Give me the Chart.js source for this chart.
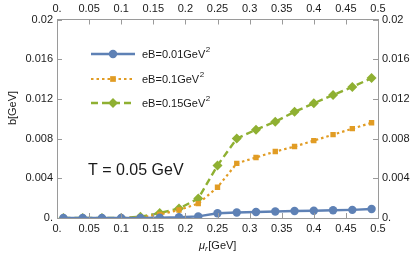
<!DOCTYPE html>
<html>
<head>
<meta charset="utf-8">
<script src="https://cdn.jsdelivr.net/npm/chart.js"></script>
<style>
html,body{margin:0;padding:0;background:#fff;}
#c{display:block;}
</style>
</head>
<body>
<canvas id="c" width="415" height="260"></canvas>
<script>
/* ── data ── */
const mu=[0.01,0.04,0.07,0.10,0.13,0.16,0.19,0.22,0.25,0.28,0.31,0.34,0.37,0.40,0.43,0.46,0.49];
const b001=[0,0,0,0,0,0.00004,0.00007,0.00016,0.00048,0.00055,0.0006,0.00066,0.0007,0.00073,0.00078,0.00082,0.0009];
const b01=[0,0,0,0,0.00005,0.00035,0.0008,0.00145,0.0031,0.0055,0.0061,0.0067,0.0072,0.0078,0.0084,0.0090,0.0096];
const b015=[0,0,0,0,0.00012,0.0005,0.00095,0.00196,0.0053,0.0080,0.0089,0.0097,0.0107,0.01155,0.0124,0.0132,0.0141];
const seriesNames=['eB=0.01GeV','eB=0.1GeV','eB=0.15GeV'];
const xTicks=[0,0.05,0.1,0.15,0.2,0.25,0.3,0.35,0.4,0.45,0.5];
const xTickLabels=['0.','0.05','0.1','0.15','0.2','0.25','0.3','0.35','0.4','0.45','0.5'];
const yTicks=[0,0.004,0.008,0.012,0.016,0.02];
const yTickLabels=['0.','0.004','0.008','0.012','0.016','0.02'];
const tempLabel='T = 0.05 GeV';

const FONT="'Liberation Sans',Arial,sans-serif";
const frameC='#9a9a9a', ink='#1a1a1a';
const cols=['#5E81B5','#E19C24','#8FB032'];
const styles=[
  {dash:[],w:2.4,ps:'circle',r:4.2},
  {dash:[2.5,3],w:2.2,ps:'rect',r:3.8},
  {dash:[7,4],w:2.4,ps:'rectRot',r:5}
];
const pts=ys=>mu.map((x,i)=>({x,y:ys[i]}));

function tickAxis(pos,ticks,labels,h,w){
  const isX=pos==='top'||pos==='bottom';
  const vals=isX?xTicks:yTicks;
  return {type:'linear',position:pos,min:0,max:isX?0.5:0.02,
    afterBuildTicks:s=>{s.ticks=vals.map(v=>({value:v}));},
    afterFit:s=>{if(isX)s.height=h;else s.width=w;},
    grid:{display:false,drawTicks:false},
    border:{display:true,color:frameC,width:1},
    ticks:{display:labels,padding:4,color:ink,font:{family:FONT,size:11},maxRotation:0,autoSkip:false,
      callback:(v,i)=>(isX?xTickLabels:yTickLabels)[i]}};
}

function marker(ctx,ps,r,x,y,c){
  ctx.save();ctx.fillStyle=c;ctx.beginPath();
  if(ps==='circle')ctx.arc(x,y,r,0,Math.PI*2);
  else if(ps==='rect')ctx.rect(x-r*0.75,y-r*0.75,r*1.5,r*1.5);
  else{ctx.moveTo(x,y-r);ctx.lineTo(x+r,y);ctx.lineTo(x,y+r);ctx.lineTo(x-r,y);ctx.closePath();}
  ctx.fill();ctx.restore();
}

const deco={id:'deco',
  afterDraw(ch){
    const ctx=ch.ctx,a=ch.chartArea,sx=ch.scales.x,sy=ch.scales.y;
    ctx.save();
    // inward ticks
    ctx.strokeStyle=frameC;ctx.lineWidth=1;ctx.setLineDash([]);
    xTicks.forEach(v=>{const p=Math.round(sx.getPixelForValue(v))+0.5;
      ctx.beginPath();ctx.moveTo(p,a.bottom);ctx.lineTo(p,a.bottom-5);ctx.moveTo(p,a.top);ctx.lineTo(p,a.top+5);ctx.stroke();});
    yTicks.forEach(v=>{const p=Math.round(sy.getPixelForValue(v))+0.5;
      ctx.beginPath();ctx.moveTo(a.left,p);ctx.lineTo(a.left+5,p);ctx.moveTo(a.right,p);ctx.lineTo(a.right-5,p);ctx.stroke();});
    // legend
    ctx.textBaseline='middle';
    [54,79,103].forEach((ly,i)=>{
      const st=styles[i];
      ctx.strokeStyle=cols[i];ctx.lineWidth=st.w;ctx.setLineDash(st.dash);
      ctx.beginPath();ctx.moveTo(91,ly);ctx.lineTo(135,ly);ctx.stroke();ctx.setLineDash([]);
      marker(ctx,st.ps,st.r,113,ly,cols[i]);
      ctx.fillStyle=ink;ctx.textAlign='left';ctx.font='11px '+FONT;
      ctx.fillText(seriesNames[i],142,ly+1);
      const w=ctx.measureText(seriesNames[i]).width;
      ctx.font='8px '+FONT;ctx.fillText('2',142+w+0.5,ly-4);
    });
    // temperature label
    ctx.font='16px '+FONT;ctx.fillStyle=ink;ctx.textAlign='left';
    ctx.fillText(tempLabel,88,171);
    // x axis title  μ_r[GeV]
    ctx.textBaseline='alphabetic';
    ctx.font='italic 11px '+FONT;const w1=ctx.measureText('μ').width;
    ctx.font='italic 8px '+FONT;const w2=ctx.measureText('r').width;
    ctx.font='11px '+FONT;const w3=ctx.measureText('[GeV]').width;
    let x0=(a.left+a.right)/2-(w1+w2+w3)/2;
    ctx.font='italic 11px '+FONT;ctx.fillText('μ',x0,249);
    ctx.font='italic 8px '+FONT;ctx.fillText('r',x0+w1,251);
    ctx.font='11px '+FONT;ctx.fillText('[GeV]',x0+w1+w2+0.5,249);
    // y axis title
    ctx.translate(13,108);ctx.rotate(-Math.PI/2);ctx.textAlign='center';ctx.textBaseline='middle';
    ctx.fillText('b[GeV]',0,0);
    ctx.restore();
  }};

new Chart(document.getElementById('c'),{
  type:'scatter',
  data:{datasets:[b001,b01,b015].map((d,i)=>({
    label:seriesNames[i],data:pts(d),showLine:true,
    borderColor:cols[i],backgroundColor:cols[i],borderWidth:styles[i].w,borderDash:styles[i].dash,
    pointStyle:styles[i].ps,pointRadius:styles[i].r,pointBorderWidth:0,tension:0}))},
  options:{responsive:false,animation:false,
    layout:{padding:0},
    plugins:{legend:{display:false},tooltip:{enabled:false}},
    scales:{
      x:tickAxis('bottom',xTicks,true,42),
      x2:tickAxis('top',xTicks,true,19.5),
      y:tickAxis('left',yTicks,true,0,57),
      y2:tickAxis('right',yTicks,true,0,37)
    }},
  plugins:[deco]
});
</script>
</body>
</html>
